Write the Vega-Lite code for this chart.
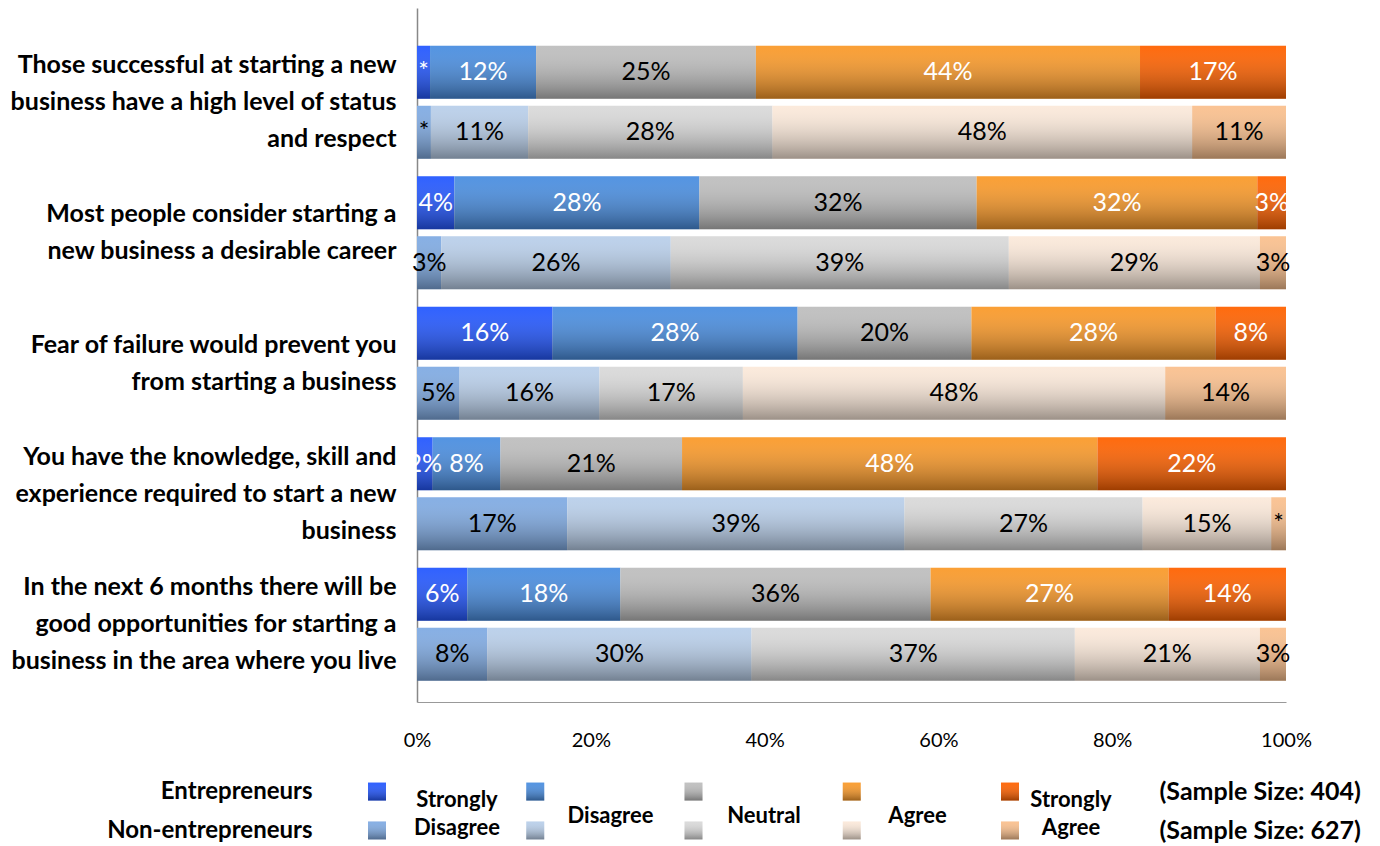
{
  "$schema": "https://vega.github.io/schema/vega-lite/v6.json",
  "padding": {"left": 9, "top": 8, "right": 5, "bottom": 0},
  "bounds": "flush",
  "spacing": 74,
  "config": {"view": {"stroke": null}, "font": "Lato", "text": {"font": "Lato"}},
  "datasets": {
    "bars": [
      {"question": "Those successful at starting a new|business have a high level of status|and respect", "group": "Entrepreneurs", "response": "Strongly Disagree", "level": 1, "value": 1.5, "label": "*", "series": "Entrepreneurs: Strongly Disagree"},
      {"question": "Those successful at starting a new|business have a high level of status|and respect", "group": "Entrepreneurs", "response": "Disagree", "level": 2, "value": 12.2, "label": "12%", "series": "Entrepreneurs: Disagree"},
      {"question": "Those successful at starting a new|business have a high level of status|and respect", "group": "Entrepreneurs", "response": "Neutral", "level": 3, "value": 25.3, "label": "25%", "series": "Entrepreneurs: Neutral"},
      {"question": "Those successful at starting a new|business have a high level of status|and respect", "group": "Entrepreneurs", "response": "Agree", "level": 4, "value": 44.2, "label": "44%", "series": "Entrepreneurs: Agree"},
      {"question": "Those successful at starting a new|business have a high level of status|and respect", "group": "Entrepreneurs", "response": "Strongly Agree", "level": 5, "value": 16.8, "label": "17%", "series": "Entrepreneurs: Strongly Agree"},
      {"question": "Those successful at starting a new|business have a high level of status|and respect", "group": "Non-entrepreneurs", "response": "Strongly Disagree", "level": 1, "value": 1.6, "label": "*", "series": "Non-entrepreneurs: Strongly Disagree"},
      {"question": "Those successful at starting a new|business have a high level of status|and respect", "group": "Non-entrepreneurs", "response": "Disagree", "level": 2, "value": 11.2, "label": "11%", "series": "Non-entrepreneurs: Disagree"},
      {"question": "Those successful at starting a new|business have a high level of status|and respect", "group": "Non-entrepreneurs", "response": "Neutral", "level": 3, "value": 28.1, "label": "28%", "series": "Non-entrepreneurs: Neutral"},
      {"question": "Those successful at starting a new|business have a high level of status|and respect", "group": "Non-entrepreneurs", "response": "Agree", "level": 4, "value": 48.3, "label": "48%", "series": "Non-entrepreneurs: Agree"},
      {"question": "Those successful at starting a new|business have a high level of status|and respect", "group": "Non-entrepreneurs", "response": "Strongly Agree", "level": 5, "value": 10.8, "label": "11%", "series": "Non-entrepreneurs: Strongly Agree"},

      {"question": "Most people consider starting a|new business a desirable career", "group": "Entrepreneurs", "response": "Strongly Disagree", "level": 1, "value": 4.3, "label": "4%", "series": "Entrepreneurs: Strongly Disagree"},
      {"question": "Most people consider starting a|new business a desirable career", "group": "Entrepreneurs", "response": "Disagree", "level": 2, "value": 28.2, "label": "28%", "series": "Entrepreneurs: Disagree"},
      {"question": "Most people consider starting a|new business a desirable career", "group": "Entrepreneurs", "response": "Neutral", "level": 3, "value": 31.9, "label": "32%", "series": "Entrepreneurs: Neutral"},
      {"question": "Most people consider starting a|new business a desirable career", "group": "Entrepreneurs", "response": "Agree", "level": 4, "value": 32.3, "label": "32%", "series": "Entrepreneurs: Agree"},
      {"question": "Most people consider starting a|new business a desirable career", "group": "Entrepreneurs", "response": "Strongly Agree", "level": 5, "value": 3.3, "label": "3%", "series": "Entrepreneurs: Strongly Agree"},
      {"question": "Most people consider starting a|new business a desirable career", "group": "Non-entrepreneurs", "response": "Strongly Disagree", "level": 1, "value": 2.8, "label": "3%", "series": "Non-entrepreneurs: Strongly Disagree"},
      {"question": "Most people consider starting a|new business a desirable career", "group": "Non-entrepreneurs", "response": "Disagree", "level": 2, "value": 26.4, "label": "26%", "series": "Non-entrepreneurs: Disagree"},
      {"question": "Most people consider starting a|new business a desirable career", "group": "Non-entrepreneurs", "response": "Neutral", "level": 3, "value": 38.9, "label": "39%", "series": "Non-entrepreneurs: Neutral"},
      {"question": "Most people consider starting a|new business a desirable career", "group": "Non-entrepreneurs", "response": "Agree", "level": 4, "value": 28.9, "label": "29%", "series": "Non-entrepreneurs: Agree"},
      {"question": "Most people consider starting a|new business a desirable career", "group": "Non-entrepreneurs", "response": "Strongly Agree", "level": 5, "value": 3.0, "label": "3%", "series": "Non-entrepreneurs: Strongly Agree"},

      {"question": "Fear of failure would prevent you|from starting a business", "group": "Entrepreneurs", "response": "Strongly Disagree", "level": 1, "value": 15.6, "label": "16%", "series": "Entrepreneurs: Strongly Disagree"},
      {"question": "Fear of failure would prevent you|from starting a business", "group": "Entrepreneurs", "response": "Disagree", "level": 2, "value": 28.2, "label": "28%", "series": "Entrepreneurs: Disagree"},
      {"question": "Fear of failure would prevent you|from starting a business", "group": "Entrepreneurs", "response": "Neutral", "level": 3, "value": 20.0, "label": "20%", "series": "Entrepreneurs: Neutral"},
      {"question": "Fear of failure would prevent you|from starting a business", "group": "Entrepreneurs", "response": "Agree", "level": 4, "value": 28.1, "label": "28%", "series": "Entrepreneurs: Agree"},
      {"question": "Fear of failure would prevent you|from starting a business", "group": "Entrepreneurs", "response": "Strongly Agree", "level": 5, "value": 8.1, "label": "8%", "series": "Entrepreneurs: Strongly Agree"},
      {"question": "Fear of failure would prevent you|from starting a business", "group": "Non-entrepreneurs", "response": "Strongly Disagree", "level": 1, "value": 4.9, "label": "5%", "series": "Non-entrepreneurs: Strongly Disagree"},
      {"question": "Fear of failure would prevent you|from starting a business", "group": "Non-entrepreneurs", "response": "Disagree", "level": 2, "value": 16.1, "label": "16%", "series": "Non-entrepreneurs: Disagree"},
      {"question": "Fear of failure would prevent you|from starting a business", "group": "Non-entrepreneurs", "response": "Neutral", "level": 3, "value": 16.5, "label": "17%", "series": "Non-entrepreneurs: Neutral"},
      {"question": "Fear of failure would prevent you|from starting a business", "group": "Non-entrepreneurs", "response": "Agree", "level": 4, "value": 48.6, "label": "48%", "series": "Non-entrepreneurs: Agree"},
      {"question": "Fear of failure would prevent you|from starting a business", "group": "Non-entrepreneurs", "response": "Strongly Agree", "level": 5, "value": 13.9, "label": "14%", "series": "Non-entrepreneurs: Strongly Agree"},

      {"question": "You have the knowledge, skill and|experience required to start a new|business", "group": "Entrepreneurs", "response": "Strongly Disagree", "level": 1, "value": 1.8, "label": "2%", "series": "Entrepreneurs: Strongly Disagree"},
      {"question": "You have the knowledge, skill and|experience required to start a new|business", "group": "Entrepreneurs", "response": "Disagree", "level": 2, "value": 7.8, "label": "8%", "series": "Entrepreneurs: Disagree"},
      {"question": "You have the knowledge, skill and|experience required to start a new|business", "group": "Entrepreneurs", "response": "Neutral", "level": 3, "value": 20.9, "label": "21%", "series": "Entrepreneurs: Neutral"},
      {"question": "You have the knowledge, skill and|experience required to start a new|business", "group": "Entrepreneurs", "response": "Agree", "level": 4, "value": 47.8, "label": "48%", "series": "Entrepreneurs: Agree"},
      {"question": "You have the knowledge, skill and|experience required to start a new|business", "group": "Entrepreneurs", "response": "Strongly Agree", "level": 5, "value": 21.7, "label": "22%", "series": "Entrepreneurs: Strongly Agree"},
      {"question": "You have the knowledge, skill and|experience required to start a new|business", "group": "Non-entrepreneurs", "response": "Strongly Disagree", "level": 1, "value": 17.3, "label": "17%", "series": "Non-entrepreneurs: Strongly Disagree"},
      {"question": "You have the knowledge, skill and|experience required to start a new|business", "group": "Non-entrepreneurs", "response": "Disagree", "level": 2, "value": 38.8, "label": "39%", "series": "Non-entrepreneurs: Disagree"},
      {"question": "You have the knowledge, skill and|experience required to start a new|business", "group": "Non-entrepreneurs", "response": "Neutral", "level": 3, "value": 27.4, "label": "27%", "series": "Non-entrepreneurs: Neutral"},
      {"question": "You have the knowledge, skill and|experience required to start a new|business", "group": "Non-entrepreneurs", "response": "Agree", "level": 4, "value": 14.8, "label": "15%", "series": "Non-entrepreneurs: Agree"},
      {"question": "You have the knowledge, skill and|experience required to start a new|business", "group": "Non-entrepreneurs", "response": "Strongly Agree", "level": 5, "value": 1.7, "label": "*", "series": "Non-entrepreneurs: Strongly Agree"},

      {"question": "In the next 6 months there will be|good opportunities for starting a|business in the area where you live", "group": "Entrepreneurs", "response": "Strongly Disagree", "level": 1, "value": 5.8, "label": "6%", "series": "Entrepreneurs: Strongly Disagree"},
      {"question": "In the next 6 months there will be|good opportunities for starting a|business in the area where you live", "group": "Entrepreneurs", "response": "Disagree", "level": 2, "value": 17.6, "label": "18%", "series": "Entrepreneurs: Disagree"},
      {"question": "In the next 6 months there will be|good opportunities for starting a|business in the area where you live", "group": "Entrepreneurs", "response": "Neutral", "level": 3, "value": 35.7, "label": "36%", "series": "Entrepreneurs: Neutral"},
      {"question": "In the next 6 months there will be|good opportunities for starting a|business in the area where you live", "group": "Entrepreneurs", "response": "Agree", "level": 4, "value": 27.4, "label": "27%", "series": "Entrepreneurs: Agree"},
      {"question": "In the next 6 months there will be|good opportunities for starting a|business in the area where you live", "group": "Entrepreneurs", "response": "Strongly Agree", "level": 5, "value": 13.5, "label": "14%", "series": "Entrepreneurs: Strongly Agree"},
      {"question": "In the next 6 months there will be|good opportunities for starting a|business in the area where you live", "group": "Non-entrepreneurs", "response": "Strongly Disagree", "level": 1, "value": 8.1, "label": "8%", "series": "Non-entrepreneurs: Strongly Disagree"},
      {"question": "In the next 6 months there will be|good opportunities for starting a|business in the area where you live", "group": "Non-entrepreneurs", "response": "Disagree", "level": 2, "value": 30.4, "label": "30%", "series": "Non-entrepreneurs: Disagree"},
      {"question": "In the next 6 months there will be|good opportunities for starting a|business in the area where you live", "group": "Non-entrepreneurs", "response": "Neutral", "level": 3, "value": 37.2, "label": "37%", "series": "Non-entrepreneurs: Neutral"},
      {"question": "In the next 6 months there will be|good opportunities for starting a|business in the area where you live", "group": "Non-entrepreneurs", "response": "Agree", "level": 4, "value": 21.3, "label": "21%", "series": "Non-entrepreneurs: Agree"},
      {"question": "In the next 6 months there will be|good opportunities for starting a|business in the area where you live", "group": "Non-entrepreneurs", "response": "Strongly Agree", "level": 5, "value": 3.0, "label": "3%", "series": "Non-entrepreneurs: Strongly Agree"}
    ],
    "legend": [
      {"group": "Entrepreneurs", "response": "Strongly Disagree", "series": "Entrepreneurs: Strongly Disagree"},
      {"group": "Entrepreneurs", "response": "Disagree", "series": "Entrepreneurs: Disagree"},
      {"group": "Entrepreneurs", "response": "Neutral", "series": "Entrepreneurs: Neutral"},
      {"group": "Entrepreneurs", "response": "Agree", "series": "Entrepreneurs: Agree"},
      {"group": "Entrepreneurs", "response": "Strongly Agree", "series": "Entrepreneurs: Strongly Agree"},
      {"group": "Non-entrepreneurs", "response": "Strongly Disagree", "series": "Non-entrepreneurs: Strongly Disagree"},
      {"group": "Non-entrepreneurs", "response": "Disagree", "series": "Non-entrepreneurs: Disagree"},
      {"group": "Non-entrepreneurs", "response": "Neutral", "series": "Non-entrepreneurs: Neutral"},
      {"group": "Non-entrepreneurs", "response": "Agree", "series": "Non-entrepreneurs: Agree"},
      {"group": "Non-entrepreneurs", "response": "Strongly Agree", "series": "Non-entrepreneurs: Strongly Agree"}
    ]
  },
  "vconcat": [
    {
      "width": 869,
      "height": 694,
      "data": {"name": "bars"},
      "encoding": {
        "y": {
          "field": "question", "type": "nominal", "sort": null,
          "scale": {"paddingInner": 0.134, "paddingOuter": 0.226, "align": 0.64},
          "axis": {
            "title": null, "labelExpr": "split(datum.label, '|')",
            "labelFont": "Lato", "labelFontWeight": "bold", "labelFontSize": 25,
            "labelLineHeight": 37, "labelColor": "#000000", "labelLimit": 0,
            "labelPadding": 21, "ticks": false, "domainColor": "#888888", "domainWidth": 1.5,
            "labelOffset": {"condition": {"test": "length(split(datum.value, '|')) > 2", "value": -37}, "value": -18.5}
          }
        },
        "yOffset": {
          "field": "group", "type": "nominal", "sort": ["Entrepreneurs", "Non-entrepreneurs"],
          "scale": {"paddingInner": 0.117, "paddingOuter": 0}
        }
      },
      "layer": [
        {
          "mark": {"type": "bar"},
          "encoding": {
            "x": {
              "field": "value", "type": "quantitative", "stack": "zero",
              "scale": {"domain": [0, 100], "nice": false},
              "axis": {
                "title": null, "values": [0, 20, 40, 60, 80, 100],
                "labelExpr": "datum.value + '%'", "ticks": false, "grid": false,
                "domainColor": "#999999", "labelFontSize": 20, "labelFont": "Lato",
                "labelColor": "#000000", "labelPadding": 28, "labelFlush": false
              }
            },
            "color": {
              "field": "series", "type": "nominal", "legend": null,
              "scale": {
                "domain": ["Entrepreneurs: Strongly Disagree", "Entrepreneurs: Disagree", "Entrepreneurs: Neutral", "Entrepreneurs: Agree", "Entrepreneurs: Strongly Agree", "Non-entrepreneurs: Strongly Disagree", "Non-entrepreneurs: Disagree", "Non-entrepreneurs: Neutral", "Non-entrepreneurs: Agree", "Non-entrepreneurs: Strongly Agree"],
                "range": ["#2458ff", "#4a8ee0", "#bebebe", "#fa9a2a", "#ff6200", "#80abe3", "#b9cfea", "#d9d9d9", "#fbe9da", "#fac08e"]
              }
            },
            "order": {"field": "level", "type": "quantitative"}
          }
        },
        {
          "mark": {
            "type": "bar",
            "fill": {"gradient": "linear", "x1": 0, "y1": 0, "x2": 0, "y2": 1,
              "stops": [{"offset": 0, "color": "rgba(255,255,255,0.05)"}, {"offset": 1, "color": "rgba(0,0,0,0.38)"}]}
          },
          "encoding": {
            "x": {"aggregate": "sum", "field": "value", "type": "quantitative"}
          }
        },
        {
          "mark": {"type": "text", "fontSize": 25, "font": "Lato"},
          "encoding": {
            "x": {"field": "value", "type": "quantitative", "stack": "zero", "bandPosition": 0.5},
            "detail": {"field": "series"},
            "order": {"field": "level", "type": "quantitative"},
            "text": {"field": "label"},
            "color": {
              "condition": {"test": "datum.group === 'Entrepreneurs' && datum.response !== 'Neutral'", "value": "white"},
              "value": "black"
            }
          }
        }
      ]
    },
    {
      "width": 732,
      "height": 70,
      "data": {"name": "legend"},
      "layer": [
        {
          "mark": {"type": "square", "size": 324, "opacity": 1, "filled": true},
          "encoding": {
            "x": {"field": "response", "type": "nominal", "sort": null,
              "scale": {"type": "point", "domain": ["Strongly Disagree", "Disagree", "Neutral", "Agree", "Strongly Agree"], "range": [-40, 593], "padding": 0}, "axis": null},
            "y": {"field": "group", "type": "nominal", "sort": null,
              "scale": {"type": "point", "padding": 0.4},
              "axis": {"orient": "left", "title": null, "domain": false, "ticks": false,
                "labelFont": "Lato", "labelFontWeight": "bold", "labelFontSize": 24,
                "labelColor": "#000000", "labelPadding": 105, "labelLimit": 0}},
            "color": {"field": "series", "type": "nominal", "legend": null}
          }
        },
        {
          "mark": {
            "type": "square", "size": 324, "opacity": 1, "filled": true,
            "fill": {"gradient": "linear", "x1": 0, "y1": 0, "x2": 0, "y2": 1,
              "stops": [{"offset": 0, "color": "rgba(255,255,255,0.05)"}, {"offset": 1, "color": "rgba(0,0,0,0.38)"}]}
          },
          "encoding": {
            "x": {"field": "response", "type": "nominal", "sort": null,
              "scale": {"type": "point", "domain": ["Strongly Disagree", "Disagree", "Neutral", "Agree", "Strongly Agree"], "range": [-40, 593], "padding": 0}, "axis": null},
            "y": {"field": "group", "type": "nominal", "sort": null,
              "axis": {"orient": "right", "title": null, "domain": false, "ticks": false,
                "labelExpr": "datum.label === 'Entrepreneurs' ? '(Sample Size: 404)' : '(Sample Size: 627)'",
                "labelFont": "Lato", "labelFontWeight": "bold", "labelFontSize": 25,
                "labelColor": "#000000", "labelPadding": 10, "labelLimit": 0, "labelAlign": "left"}}
          }
        },
        {
          "transform": [{"filter": "datum.group === 'Entrepreneurs' && indexof(datum.response, ' ') >= 0"}],
          "mark": {"type": "text", "dy": -11, "font": "Lato", "fontSize": 22, "fontWeight": "bold",
            "lineBreak": " ", "lineHeight": 28, "color": "black"},
          "encoding": {
            "x": {"field": "response", "type": "nominal", "sort": null,
              "scale": {"type": "point", "domain": ["Strongly Disagree", "Disagree", "Neutral", "Agree", "Strongly Agree"], "range": [40, 654], "padding": 0}, "axis": null},
            "text": {"field": "response"}
          }
        },
        {
          "transform": [{"filter": "datum.group === 'Entrepreneurs' && indexof(datum.response, ' ') < 0"}],
          "mark": {"type": "text", "dy": 5, "font": "Lato", "fontSize": 22, "fontWeight": "bold", "color": "black"},
          "encoding": {
            "x": {"field": "response", "type": "nominal", "sort": null,
              "scale": {"type": "point", "domain": ["Strongly Disagree", "Disagree", "Neutral", "Agree", "Strongly Agree"], "range": [40, 654], "padding": 0}, "axis": null},
            "text": {"field": "response"}
          }
        }
      ],
      "resolve": {"axis": {"y": "independent"}, "scale": {"x": "independent"}}
    }
  ]
}
